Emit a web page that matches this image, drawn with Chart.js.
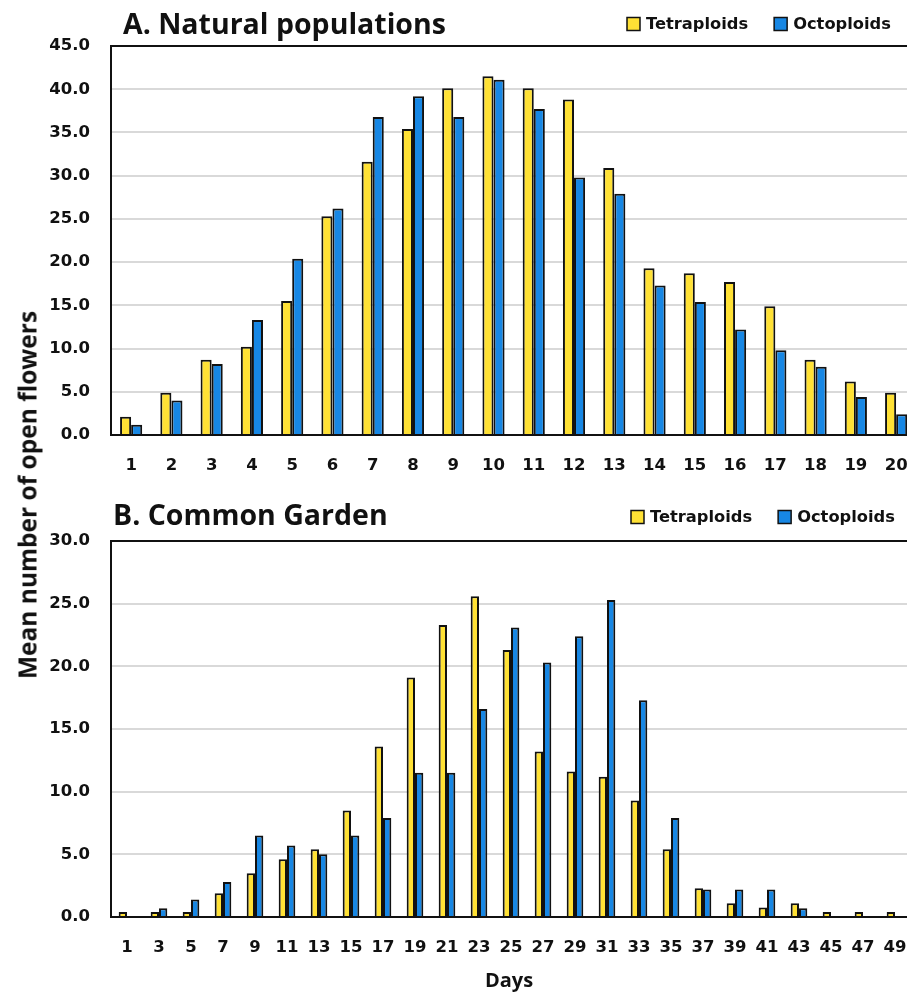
<!DOCTYPE html>
<html>
<head>
<meta charset="utf-8">
<script src="https://cdn.jsdelivr.net/npm/chart.js@4.4.1/dist/chart.umd.min.js"></script>
<style>
body { margin: 0; background: #fff; }
#wrap { position: relative; width: 907px; height: 993px; overflow: hidden; background: #fff; }
canvas { position: absolute; left: 0; }
#ytitle {
  position: absolute; left: 27px; top: 495px;
  transform: translate(-50%, -50%) rotate(-90deg);
  white-space: nowrap; font: bold 24.5px "Open Sans"; color: #111;
}
</style>
</head>
<body>
<div id="wrap">
  <canvas id="natural" width="907" height="490" style="top:0"></canvas>
  <canvas id="garden" width="907" height="503" style="top:490px"></canvas>
  <div id="ytitle">Mean number of open flowers</div>
</div>
<script>
// A. Natural populations
var natDays = [1, 2, 3, 4, 5, 6, 7, 8, 9, 10, 11, 12, 13, 14, 15, 16, 17, 18, 19, 20];
var natTetra = [2.1, 4.9, 8.7, 10.2, 15.5, 25.3, 31.6, 35.4, 40.1, 41.5, 40.1, 38.8, 30.9, 19.3, 18.7, 17.7, 14.9, 8.7, 6.2, 4.9];
var natOcto = [1.2, 4.0, 8.2, 13.3, 20.4, 26.2, 36.8, 39.2, 36.8, 41.1, 37.7, 29.8, 27.9, 17.3, 15.4, 12.2, 9.8, 7.9, 4.4, 2.4];

// B. Common Garden
var gardenDays = [1, 3, 5, 7, 9, 11, 13, 15, 17, 19, 21, 23, 25, 27, 29, 31, 33, 35, 37, 39, 41, 43, 45, 47, 49];
var gardenTetra = [0.4, 0.4, 0.4, 1.9, 3.5, 4.6, 5.4, 8.5, 13.6, 19.1, 23.3, 25.6, 21.3, 13.2, 11.6, 11.2, 9.3, 5.4, 2.3, 1.1, 0.75, 1.1, 0.4, 0.4, 0.4];
var gardenOcto = [0, 0.7, 1.4, 2.8, 6.5, 5.7, 5.0, 6.5, 7.9, 11.5, 11.5, 16.6, 23.1, 20.3, 22.4, 25.3, 17.3, 7.9, 2.2, 2.2, 2.2, 0.7, 0, 0, 0];

var seriesNames = ['Tetraploids', 'Octoploids'];
var yellow = '#FFE135';
var blue = '#1787E4';
var tickFont = { family: 'DejaVu Sans', weight: 'bold', size: 16.5 };

// title + legend drawn on one row above the plot
var header = {
  id: 'header',
  afterDraw: function(chart, args, opts) {
    var ctx = chart.ctx;
    ctx.save();
    ctx.fillStyle = '#111';
    ctx.textBaseline = 'middle';
    ctx.font = 'bold 28.5px "Open Sans"';
    ctx.fillText(opts.title, opts.titleX, opts.titleY);
    ctx.font = 'bold 16.3px "DejaVu Sans"';
    var x = opts.legendX;
    chart.data.datasets.forEach(function(ds) {
      ctx.fillStyle = ds.backgroundColor;
      ctx.fillRect(x, opts.legendY - 6.5, 13, 13);
      ctx.strokeStyle = '#111';
      ctx.lineWidth = 1.5;
      ctx.strokeRect(x, opts.legendY - 6.5, 13, 13);
      ctx.fillStyle = '#111';
      ctx.fillText(ds.label, x + 19, opts.legendY + 1);
      x += 19 + ctx.measureText(ds.label).width + 26;
    });
    ctx.restore();
  }
};

function makeChart(id, days, tetra, octo, p) {
  return new Chart(document.getElementById(id), {
    type: 'bar',
    data: {
      labels: days,
      datasets: [
        { label: seriesNames[0], data: tetra, backgroundColor: yellow },
        { label: seriesNames[1], data: octo, backgroundColor: blue }
      ]
    },
    plugins: [header],
    options: {
      responsive: false,
      animation: false,
      layout: { padding: { top: p.top, left: 0, right: 0, bottom: 0 } },
      datasets: {
        bar: {
          borderColor: '#111', borderWidth: 2, borderSkipped: 'start',
          categoryPercentage: p.cat, barPercentage: 1
        }
      },
      plugins: {
        legend: { display: false },
        tooltip: { enabled: false },
        header: p.header
      },
      scales: {
        x: {
          type: 'linear', min: p.xmin, max: p.xmax, offset: false,
          afterBuildTicks: function(s) { s.ticks = days.map(function(v) { return { value: v }; }); },
          afterFit: function(s) { s.height = p.xh; s.paddingLeft = 0; s.paddingRight = 0; },
          grid: { display: false, offset: false },
          border: { display: true, color: '#111', width: 2 },
          ticks: { autoSkip: false, maxRotation: 0, font: tickFont, color: '#111', padding: p.xpad },
          title: p.xtitle ? { display: true, text: p.xtitle, color: '#111', padding: 0,
                              font: { family: 'Open Sans', weight: 'bold', size: 20 } } : { display: false }
        },
        y: {
          min: 0, max: p.ymax,
          afterFit: function(s) { s.width = 111; },
          grid: {
            drawTicks: false, lineWidth: 2,
            color: function(c) { return c.tick && c.tick.value === p.ymax ? '#111' : '#d9d9d9'; }
          },
          border: { display: true, color: '#111', width: 2 },
          ticks: {
            stepSize: 5, font: tickFont, color: '#111', padding: 21,
            callback: function(v) { return v.toFixed(1); }
          }
        }
      }
    }
  });
}

makeChart('natural', natDays, natTetra, natOcto, {
  top: 46, xh: 55, xpad: 13, xmin: 0.5, xmax: 20.27, ymax: 45, cat: 0.55,
  header: { title: 'A. Natural populations', titleX: 123, titleY: 26, legendX: 627, legendY: 24 }
});

makeChart('garden', gardenDays, gardenTetra, gardenOcto, {
  top: 51, xh: 76, xpad: 13, xmin: 0, xmax: 49.75, ymax: 30, cat: 0.52, xtitle: 'Days',
  header: { title: 'B. Common Garden', titleX: 113, titleY: 27, legendX: 631, legendY: 27 }
});
</script>
</body>
</html>
